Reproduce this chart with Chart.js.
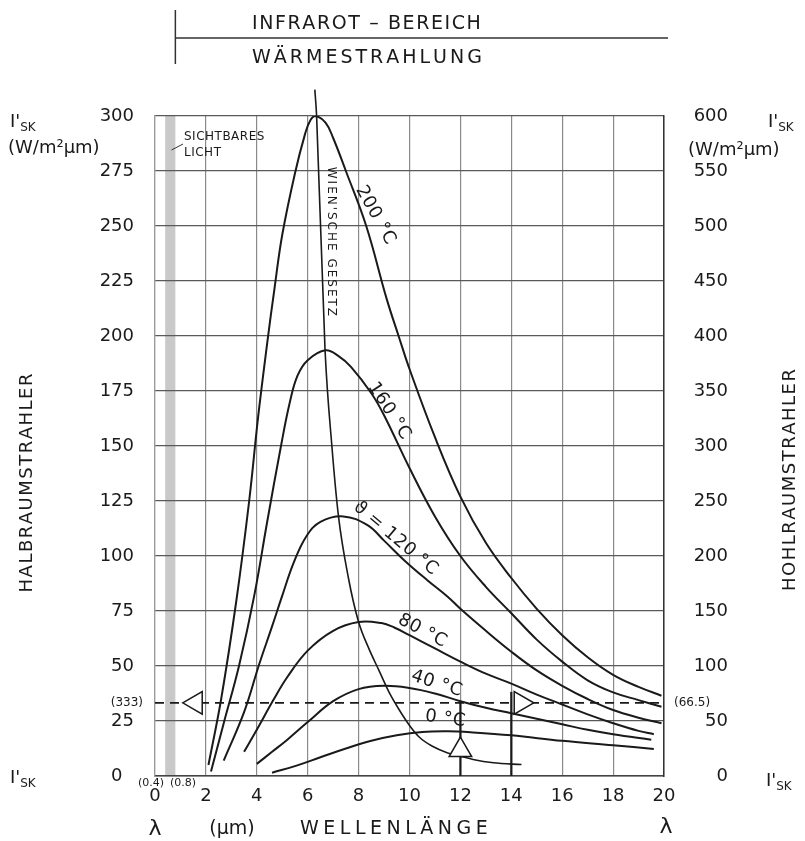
<!DOCTYPE html>
<html>
<head>
<meta charset="utf-8">
<script src="https://cdn.jsdelivr.net/npm/chart.js@4.4.0/dist/chart.umd.min.js"></script>
<style>
  html, body { margin: 0; padding: 0; background: #fff; }
</style>
</head>
<body>
<canvas id="myChart" width="805" height="841"></canvas>
<script>
// wavelength (µm) and spectral intensity I'sk (W/m²µm)
const lambda200 = [2.1, 2.6, 3.2, 3.7, 4.05, 4.4, 4.7, 5.0, 5.5, 5.9, 6.1, 6.3, 6.7, 7.0, 7.5, 8.3, 9.1, 9.6, 10, 11, 12, 13, 14, 15, 16, 17, 18, 19, 19.9]
const isk200 = [5, 35, 80, 125, 163, 196, 222, 246, 274, 292, 298, 300, 297, 290, 275, 250, 217, 199, 185, 154, 127, 106, 90, 76, 64, 54, 46, 40.5, 36.5]

const lambda160 = [2.2, 2.7, 3.3, 3.9, 4.4, 4.95, 5.3, 5.6, 6.0, 6.7, 7.2, 7.7, 8.5, 9, 10, 11, 12, 13, 14, 15, 16, 17, 18, 19, 19.9]
const isk160 = [2, 24, 50, 82, 115, 150, 170, 182, 189, 193.5, 191, 186, 174, 164, 140, 118, 100, 86, 74, 62, 52, 43.5, 38, 34.5, 31.5]

const lambda120 = [2.7, 3.5, 4.1, 4.6, 5.0, 5.45, 5.95, 6.5, 7.4, 8.35, 9, 9.8, 10.7, 11.5, 12, 13, 14, 15, 16, 17, 18, 19, 19.9]
const isk120 = [7, 29, 51, 68, 82, 97, 109, 115.5, 118, 114, 107, 98, 89, 81.5, 76, 66, 56.5, 48, 41, 35, 30, 26.5, 24]

const lambda80 = [3.5, 4, 4.65, 5.2, 6, 7, 8, 8.9, 9.4, 10, 11, 12, 13, 14, 15, 16, 17, 18, 19, 19.6]
const isk80 = [11, 21, 34.5, 45, 57, 66, 70, 69.5, 67.5, 64, 58, 52, 46.5, 42, 37, 32.5, 28, 24, 20.5, 19]

const lambda40 = [4.0, 4.6, 5.2, 6, 7, 8, 9, 10, 11, 12, 13, 14, 15, 16, 17, 18, 19.5]
const isk40 = [5.5, 11, 16.5, 24.5, 34, 39.5, 41, 40, 37.5, 34, 31, 28.5, 26, 23.5, 21, 19, 16.5]

const lambda0 = [4.6, 5.5, 6.5, 7.5, 8.5, 9.5, 10.5, 11.5, 12.5, 14, 16, 18, 19.6]
const isk0 = [1.5, 4.5, 8.5, 12.5, 16, 18.5, 20, 20.3, 19.8, 18.5, 16, 14, 12.3]

// Wien's displacement line through the maxima
const lambdaWien = [6.28, 6.35, 6.68, 6.95, 7.21, 7.6, 8.0, 8.4, 8.8, 9.2, 9.6, 10.0, 10.4, 10.9, 11.5, 12, 12.5, 13.3, 14.4]
const iskWien = [312, 300, 194, 150, 118, 90, 70, 58, 48, 38, 30, 23, 17.5, 13.5, 10.5, 9, 7.5, 6, 5.2]

// reading example (33.3 / 66.5)
const readLambda = [0, 20]
const readIsk = [33.25, 33.25]
const markerLambda = [1.6, 14.37, 12]
const markerIsk = [33.25, 33.25, 11.8]
const markerTurn = [-90, 90, 0]
const visibleBand = [0.4, 0.8]

const xTicks = [0, 2, 4, 6, 8, 10, 12, 14, 16, 18, 20]
const yLeftTicks = [0, 25, 50, 75, 100, 125, 150, 175, 200, 225, 250, 275, 300]
const yRightTicks = [0, 50, 100, 150, 200, 250, 300, 350, 400, 450, 500, 550, 600]

// curve captions: text, lambda, isk, angle
const curveLabels = [
  ['200 °C', 8.66, 255, 61],
  ['160 °C', 9.2, 166, 57],
  ['ϑ = 120 °C', 9.45, 108, 40],
  ['80 °C', 10.5, 66, 28],
  ['40 °C', 11.06, 42, 18],
  ['0 °C', 11.4, 26, 8]
]

const FONT = '"DejaVu Sans", sans-serif'
const INK = '#1a1a1a'

const pts = (xs, ys) => xs.map((x, i) => ({ x: x, y: ys[i] }))

const curve = (xs, ys) => ({
  data: pts(xs, ys),
  showLine: true,
  borderColor: INK,
  borderWidth: 2,
  pointRadius: 0,
  tension: 0.4,
  fill: false
})

function spacedText(ctx, text, x, y, spacing, align) {
  const chars = [...text]
  const widths = chars.map(c => ctx.measureText(c).width)
  const total = widths.reduce((a, b) => a + b, 0) + spacing * (chars.length - 1)
  let start = align === 'center' ? x - total / 2 : align === 'right' ? x - total : x
  ctx.textAlign = 'left'
  chars.forEach((c, i) => {
    ctx.fillText(c, start, y)
    start += widths[i] + spacing
  })
}

function rotatedText(ctx, text, x, y, deg, spacing) {
  ctx.save()
  ctx.translate(x, y)
  ctx.rotate(deg * Math.PI / 180)
  ctx.textBaseline = 'middle'
  spacedText(ctx, text, 0, 0, spacing, 'center')
  ctx.restore()
}

function isk(ctx, x, y) {
  ctx.textAlign = 'left'
  ctx.textBaseline = 'alphabetic'
  ctx.font = '18px ' + FONT
  ctx.fillText("I'", x, y)
  const w = ctx.measureText("I'").width
  ctx.font = '12px ' + FONT
  ctx.fillText('SK', x + w, y + 4)
}

const bandPlugin = {
  id: 'band',
  beforeDraw(chart) {
    const { ctx, chartArea, scales } = chart
    const x1 = scales.x.getPixelForValue(visibleBand[0])
    const x2 = scales.x.getPixelForValue(visibleBand[1])
    ctx.save()
    ctx.fillStyle = '#c9c9c9'
    ctx.fillRect(x1, chartArea.top, x2 - x1, chartArea.bottom - chartArea.top)
    ctx.restore()
  }
}

const textPlugin = {
  id: 'texts',
  afterDraw(chart) {
    const { ctx, scales } = chart
    const sx = v => scales.x.getPixelForValue(v)
    const sy = v => scales.y.getPixelForValue(v)
    ctx.save()
    ctx.fillStyle = INK
    ctx.strokeStyle = '#333'

    // header: infrared range
    const irLeft = sx(visibleBand[1])
    ctx.lineWidth = 1.5
    ctx.beginPath()
    ctx.moveTo(irLeft, 10); ctx.lineTo(irLeft, 64)
    ctx.moveTo(irLeft, 38); ctx.lineTo(sx(20) + 4, 38)
    ctx.stroke()
    ctx.font = '19px ' + FONT
    ctx.textBaseline = 'alphabetic'
    spacedText(ctx, 'INFRAROT – BEREICH', 252, 29, 1.6, 'left')
    spacedText(ctx, 'WÄRMESTRAHLUNG', 252, 63, 3, 'left')

    // right tick labels (cavity radiator = 2 x hemisphere)
    ctx.font = '18px ' + FONT
    ctx.textBaseline = 'middle'
    ctx.textAlign = 'right'
    yRightTicks.forEach(v => ctx.fillText(String(v), 728, scales.y2.getPixelForValue(v)))

    // units and axis names
    isk(ctx, 10, 127)
    isk(ctx, 768, 127)
    isk(ctx, 10, 783)
    isk(ctx, 766, 786)
    ctx.font = '18px ' + FONT
    ctx.textAlign = 'left'
    ctx.textBaseline = 'alphabetic'
    ctx.fillText('(W/m²µm)', 8, 153)
    ctx.fillText('(W/m²µm)', 688, 155)

    ctx.font = '18px ' + FONT
    rotatedText(ctx, 'HALBRAUMSTRAHLER', 27, 483, -90, 1.5)
    rotatedText(ctx, 'HOHLRAUMSTRAHLER', 790, 480, -90, 1.5)

    // x axis caption
    ctx.textBaseline = 'alphabetic'
    ctx.font = '22px ' + FONT
    ctx.textAlign = 'center'
    ctx.fillText('λ', sx(0), 835)
    ctx.fillText('λ', sx(20) + 2, 833)
    ctx.font = '19px ' + FONT
    ctx.fillText('(µm)', 232, 834)
    spacedText(ctx, 'WELLENLÄNGE', 300, 834, 4.5, 'left')

    ctx.font = '11px ' + FONT
    ctx.textAlign = 'center'
    ctx.textBaseline = 'middle'
    ctx.fillText('(0.4)', sx(0) - 4, 783)
    ctx.fillText('(0.8)', sx(1.1), 783)

    // reading example values
    ctx.font = '12px ' + FONT
    ctx.textAlign = 'right'
    ctx.fillText('(333)', 143, sy(readIsk[0]))
    ctx.textAlign = 'left'
    ctx.fillText('(66.5)', 674, sy(readIsk[0]))

    // visible light note
    ctx.font = '12px ' + FONT
    ctx.textBaseline = 'alphabetic'
    spacedText(ctx, 'SICHTBARES', 184, 140, 0.5, 'left')
    spacedText(ctx, 'LICHT', 184, 156, 0.5, 'left')
    ctx.lineWidth = 1
    ctx.beginPath()
    ctx.moveTo(sx(0.65), 150); ctx.lineTo(183, 144)
    ctx.stroke()

    // Wien's law caption
    ctx.font = '12px ' + FONT
    rotatedText(ctx, "WIEN'SCHE GESETZ", sx(6.93), sy(243), 90, 2)

    // curve captions
    ctx.font = '18px ' + FONT
    curveLabels.forEach(([t, lx, ly, a]) => rotatedText(ctx, t, sx(lx), sy(ly), a, 0.5))

    ctx.restore()
  }
}

const config = {
  type: 'scatter',
  data: {
    datasets: [
      {
        data: pts(markerLambda, markerIsk),
        pointStyle: 'triangle',
        pointRadius: 13,
        pointRotation: markerTurn,
        pointBackgroundColor: '#fff',
        pointBorderColor: INK,
        pointBorderWidth: 1.5,
        showLine: false,
        order: -1
      },
      curve(lambda200, isk200),
      curve(lambda160, isk160),
      curve(lambda120, isk120),
      curve(lambda80, isk80),
      curve(lambda40, isk40),
      curve(lambda0, isk0),
      Object.assign(curve(lambdaWien, iskWien), { borderWidth: 1.6, clip: false, tension: 0, cubicInterpolationMode: 'monotone' }),
      {
        data: pts(readLambda, readIsk),
        showLine: true,
        borderColor: INK,
        borderWidth: 1.6,
        borderDash: [9, 6],
        pointRadius: 0
      },
      {
        data: pts([12, 12], [0, readIsk[0]]),
        showLine: true, borderColor: INK, borderWidth: 2.2, pointRadius: 0
      },
      {
        data: pts([14, 14], [0, readIsk[0] + 5]),
        showLine: true, borderColor: INK, borderWidth: 2.2, pointRadius: 0
      }
    ]
  },
  options: {
    responsive: false,
    animation: false,
    layout: { padding: { top: 116 } },
    plugins: { legend: { display: false }, tooltip: { enabled: false } },
    scales: {
      x: {
        type: 'linear', min: 0, max: 20,
        afterBuildTicks: s => { s.ticks = xTicks.map(v => ({ value: v })) },
        afterFit: s => { s.height = 65 },
        ticks: { font: { family: 'DejaVu Sans', size: 18 }, color: INK, padding: 10 },
        grid: { color: '#8a8a8a', lineWidth: 1.2, drawTicks: false },
        border: { color: '#444', width: 1.5 }
      },
      y: {
        type: 'linear', min: 0, max: 300, position: 'left',
        afterBuildTicks: s => { s.ticks = yLeftTicks.map(v => ({ value: v })) },
        afterFit: s => { s.width = 155 },
        ticks: {
          font: { family: 'DejaVu Sans', size: 18 }, color: INK, padding: 21,
          callback: v => v === 0 ? '0  ' : String(v)
        },
        grid: { color: '#5a5a5a', lineWidth: 1.3, drawTicks: false },
        border: { color: '#9a9a9a', width: 1.2 }
      },
      y2: {
        type: 'linear', min: 0, max: 600, position: 'right',
        afterFit: s => { s.width = 141 },
        ticks: { display: false },
        grid: { display: false, drawTicks: false },
        border: { color: '#333', width: 1.5 }
      }
    }
  },
  plugins: [bandPlugin, textPlugin]
}

const myChart = new Chart(document.getElementById('myChart'), config)
</script>
</body>
</html>
